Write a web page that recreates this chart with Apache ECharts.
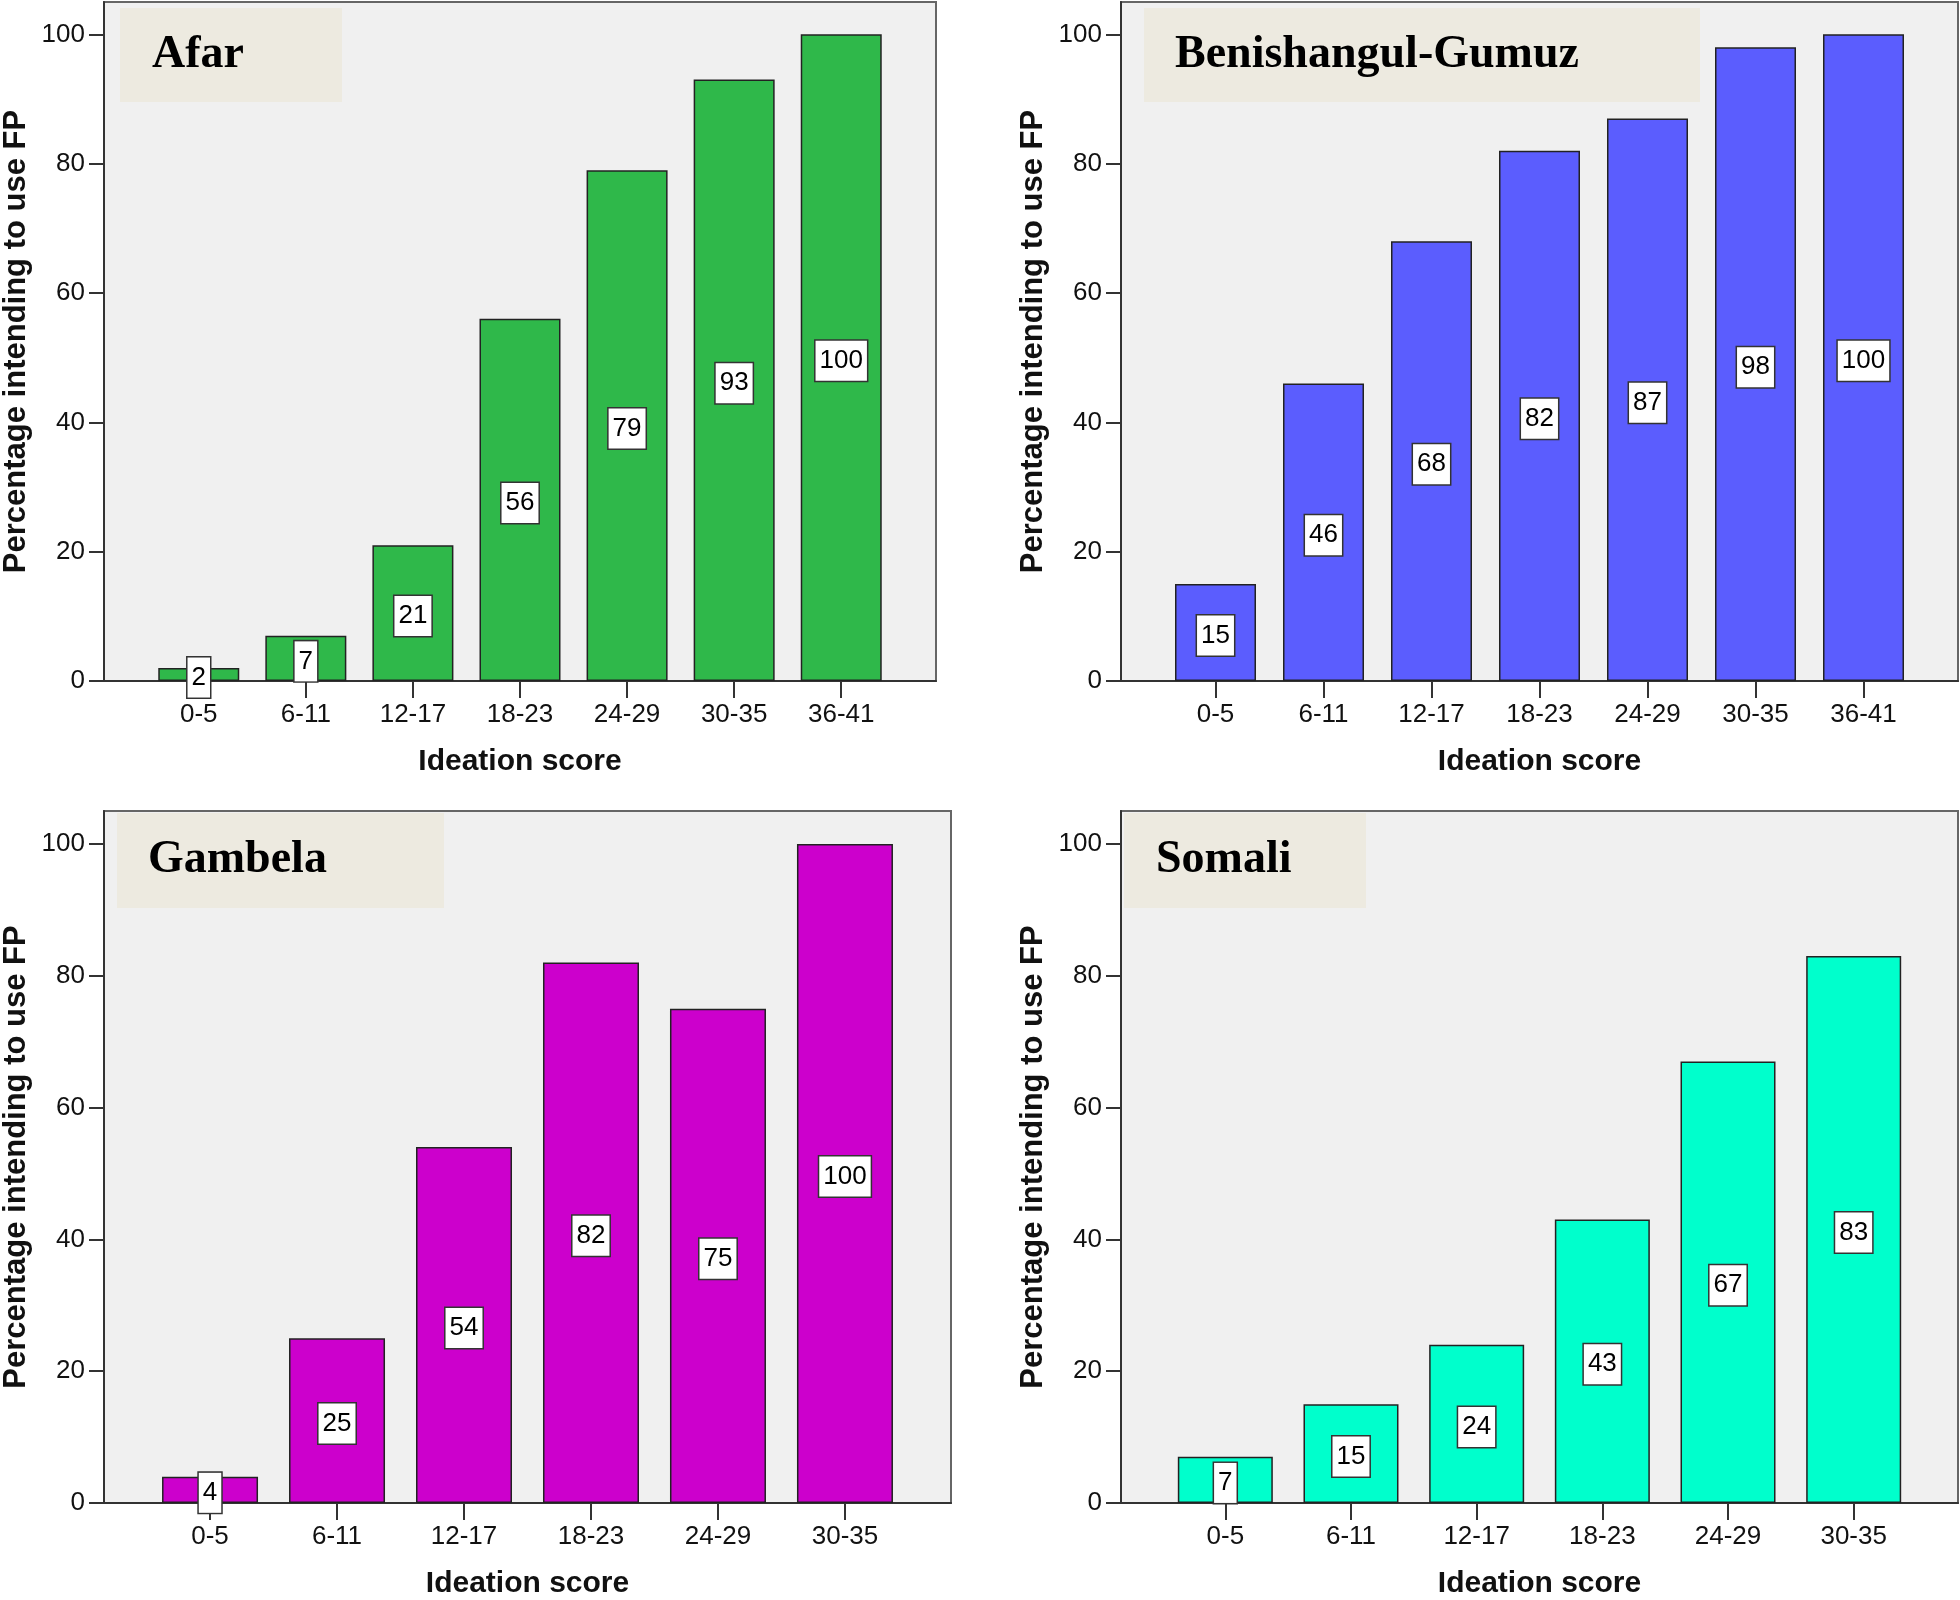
<!DOCTYPE html>
<html>
<head>
<meta charset="utf-8">
<script src="https://cdn.jsdelivr.net/npm/echarts@6/dist/echarts.min.js"></script>
<style>
html,body{margin:0;padding:0;background:#fff;}
#chart{width:1960px;height:1600px;}
</style>
</head>
<body>
<div id="chart"></div>
<script>
// ---- data ----
const afarCategories = ['0-5','6-11','12-17','18-23','24-29','30-35','36-41'];
const afarValues = [2, 7, 21, 56, 79, 93, 100];
const benishangulCategories = ['0-5','6-11','12-17','18-23','24-29','30-35','36-41'];
const benishangulValues = [15, 46, 68, 82, 87, 98, 100];
const gambelaCategories = ['0-5','6-11','12-17','18-23','24-29','30-35'];
const gambelaValues = [4, 25, 54, 82, 75, 100];
const somaliCategories = ['0-5','6-11','12-17','18-23','24-29','30-35'];
const somaliValues = [7, 15, 24, 43, 67, 83];
const yTicks = [0, 20, 40, 60, 80, 100];
const panelTitles = ['Afar', 'Benishangul-Gumuz', 'Gambela', 'Somali'];
const xAxisTitle = 'Ideation score';
const yAxisTitle = 'Percentage intending to use FP';

// ---- styling / layout ----
const NARROW = '"Liberation Sans Narrow","Arial Narrow","Liberation Sans",Arial,sans-serif';
const SANS = '"Liberation Sans",Arial,sans-serif';
const SERIF = '"Liberation Serif","Times New Roman",serif';

const panels = [
  {cats: afarCategories, vals: afarValues, color: '#2fb84a', grid: {left:102, top:2, width:834, height:679}, pad:0.885, barWidth:81,
   box:{x:120,y:8,w:222,h:94}, textX:152},
  {cats: benishangulCategories, vals: benishangulValues, color: '#5b5dfe', grid: {left:1121, top:2, width:837, height:679}, pad:0.875, barWidth:81,
   box:{x:1144,y:8,w:556,h:94}, textX:1175},
  {cats: gambelaCategories, vals: gambelaValues, color: '#cc00cc', grid: {left:104, top:811, width:847, height:695}, pad:0.835, barWidth:96,
   box:{x:117,y:813,w:327,h:95}, textX:148},
  {cats: somaliCategories, vals: somaliValues, color: '#00ffcc', grid: {left:1121, top:811, width:837, height:695}, pad:0.83, barWidth:95,
   box:{x:1124,y:813,w:242,h:95}, textX:1156}
];

const axisLineStyle = {color:'#333', width:2};

const option = {
  backgroundColor: '#ffffff',
  animation: false,
  grid: panels.map(p => Object.assign({show:true, backgroundColor:'#f0f0f0', borderColor:'#666', borderWidth:2, containLabel:false}, p.grid)),
  xAxis: panels.map((p, i) => ({
    type: 'value', gridIndex: i,
    min: -p.pad, max: p.cats.length - 1 + p.pad,
    axisLine: {show:true, onZero:false, lineStyle: axisLineStyle},
    axisTick: {show:true, length:17, lineStyle: axisLineStyle, customValues: p.cats.map((c, k) => k)},
    axisLabel: {show:true, margin:21, fontFamily:NARROW, fontSize:26, color:'#111',
      customValues: p.cats.map((c, k) => k), formatter: v => p.cats[Math.round(v)]},
    splitLine: {show:false},
    name: xAxisTitle, nameLocation:'middle', nameGap:66,
    nameTextStyle: {fontFamily:NARROW, fontSize:30, fontWeight:'bold', color:'#111'}
  })),
  yAxis: panels.map((p, i) => ({
    type: 'value', gridIndex: i, min: 0, max: 105,
    axisLine: {show:true, onZero:false, lineStyle: axisLineStyle},
    axisTick: {show:true, length:15, lineStyle: axisLineStyle, customValues: yTicks},
    axisLabel: {show:true, margin:19, fontFamily:NARROW, fontSize:26, color:'#111', customValues: yTicks},
    splitLine: {show:false},
    name: yAxisTitle, nameLocation:'middle', nameGap:72, nameRotate:90,
    nameTextStyle: {fontFamily:SANS, fontSize:31, fontWeight:'bold', color:'#111'}
  })),
  series: panels.map((p, i) => ({
    type: 'bar', xAxisIndex: i, yAxisIndex: i,
    barWidth: p.barWidth,
    data: p.vals.map((v, k) => [k, v]),
    itemStyle: {color: p.color, borderColor:'#222', borderWidth:1.5},
    label: {show:true, position:'inside', offset:[0,3], formatter: d => d.value[1],
      fontFamily:NARROW, fontSize:26, color:'#000', backgroundColor:'#fff',
      borderColor:'#333', borderWidth:1.5, padding:[8,4,6,4], lineHeight:26}
  })),
  graphic: panels.map((p, i) => ({
    type:'group', silent:true,
    children:[
      {type:'rect', shape:{x:p.box.x, y:p.box.y, width:p.box.w, height:p.box.h}, style:{fill:'#edeae0'}, z:10},
      {type:'text', x:p.textX, y:p.box.y + p.box.h/2, z:11,
       style:{text: panelTitles[i], font:'bold 46px ' + SERIF, fill:'#000', verticalAlign:'middle', align:'left'}}
    ]
  }))
};

const chart = echarts.init(document.getElementById('chart'), null, {renderer:'canvas'});
chart.setOption(option);
</script>
</body>
</html>
